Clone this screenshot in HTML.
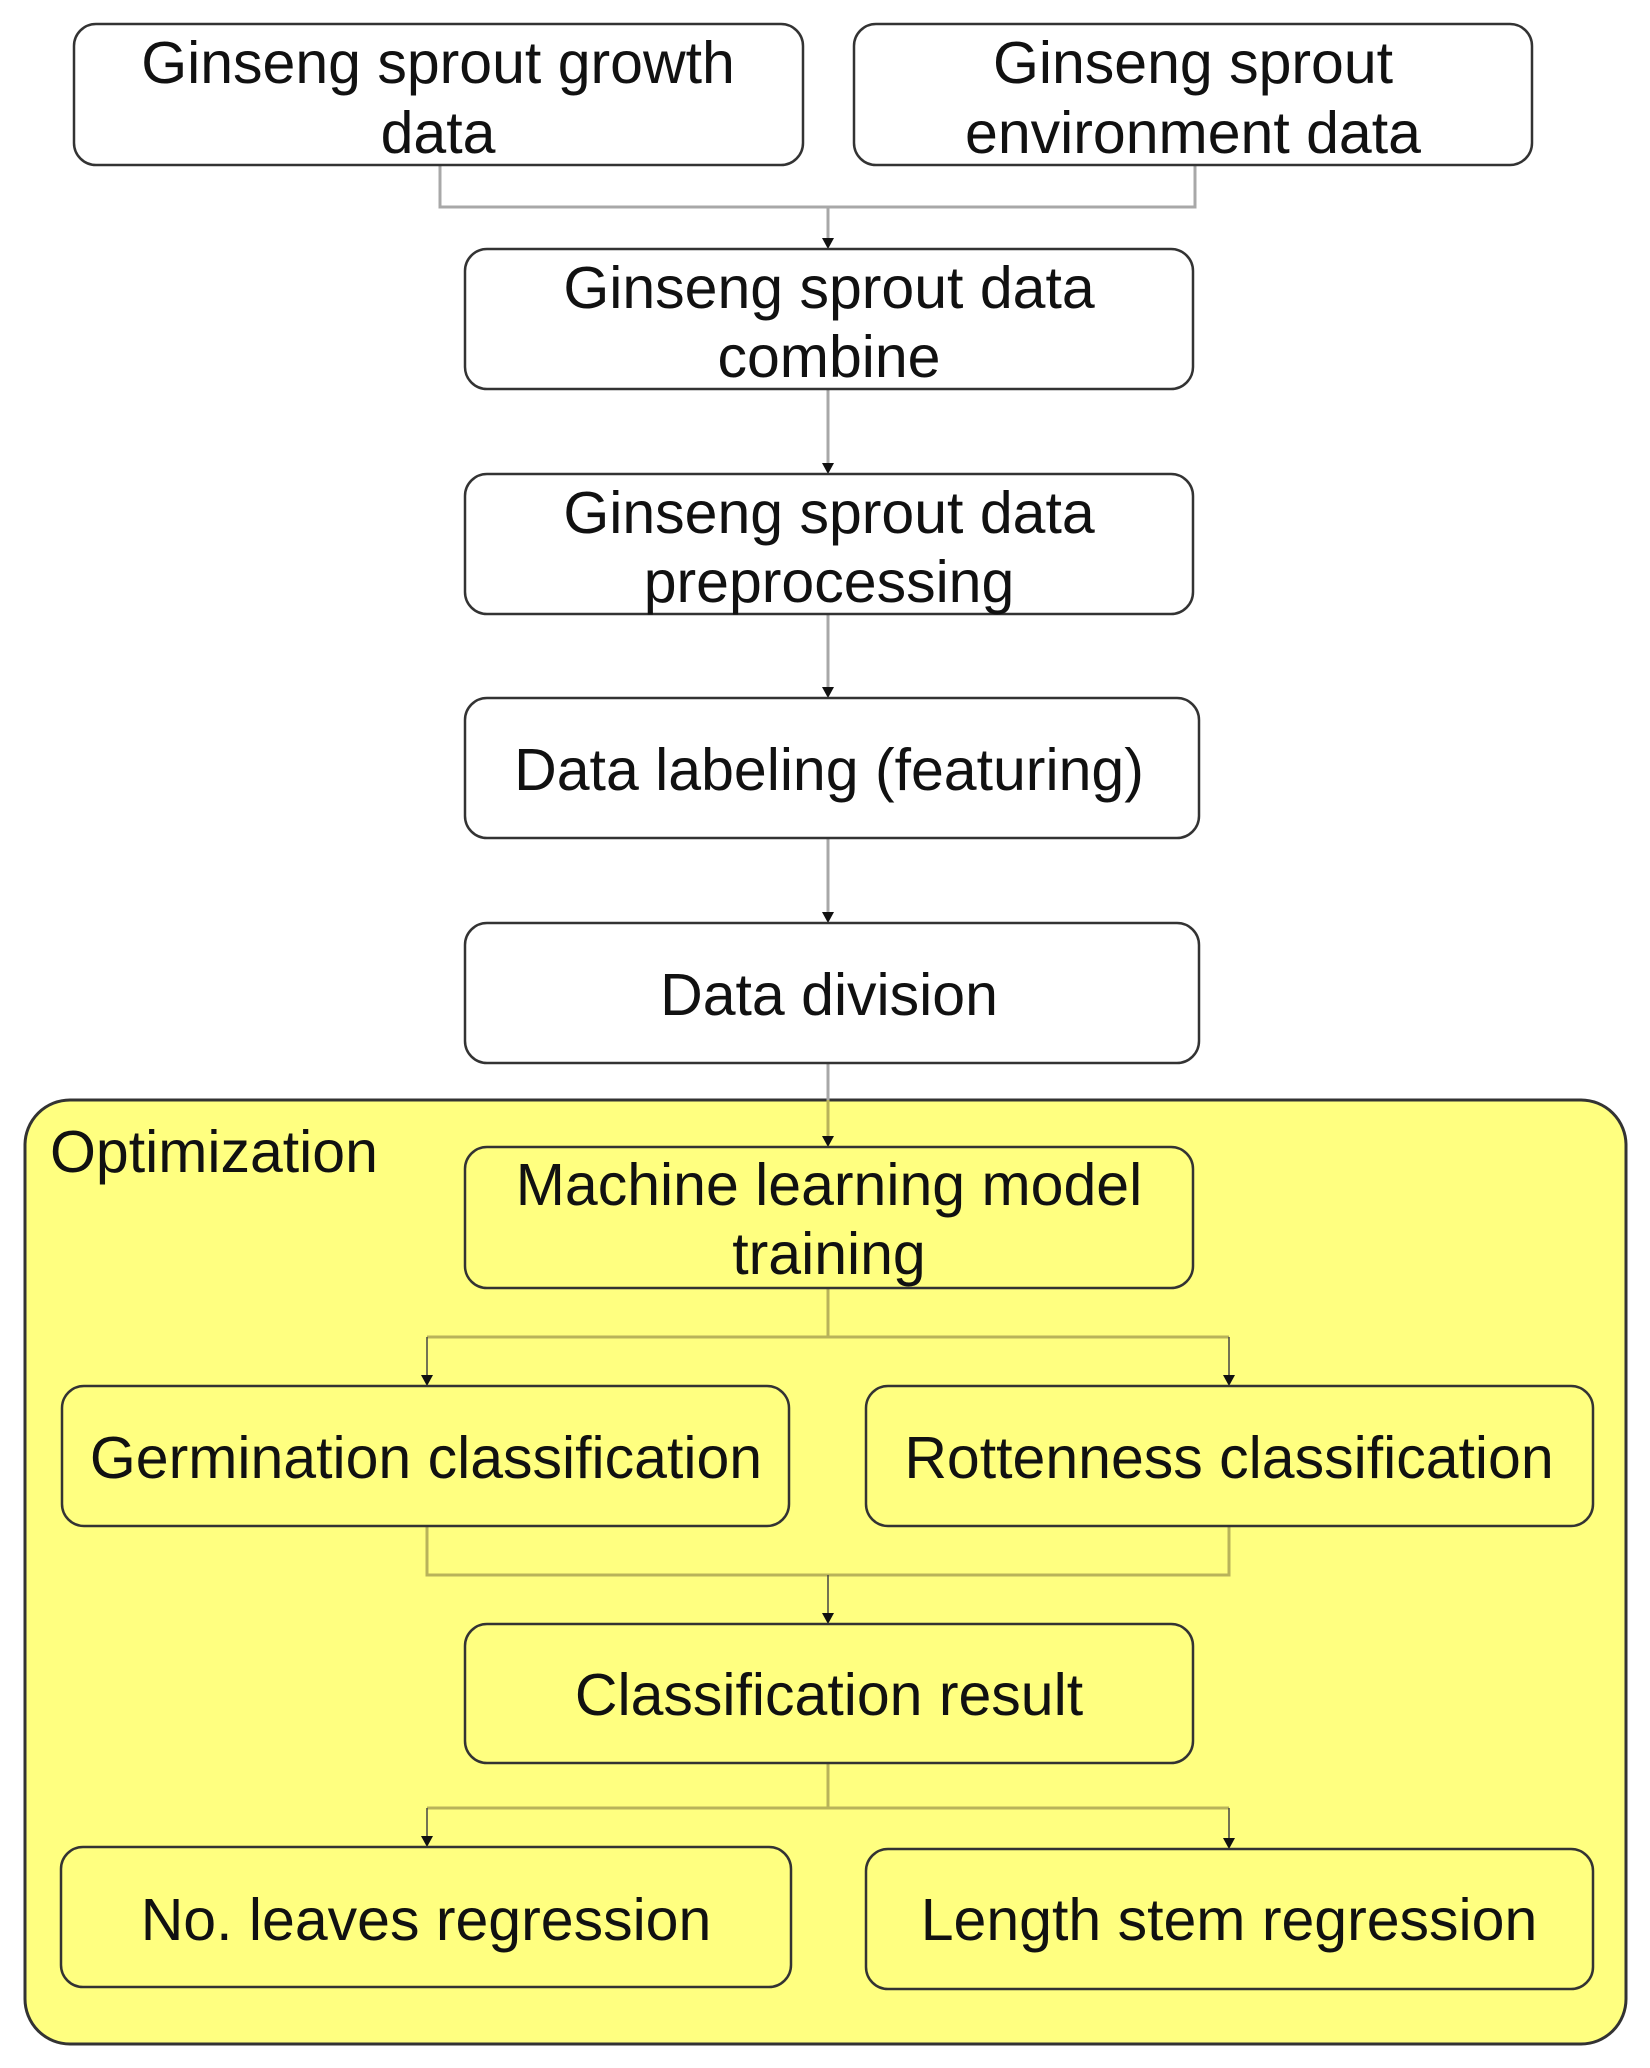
<!DOCTYPE html>
<html><head><meta charset="utf-8"><style>
html,body{margin:0;padding:0;background:#fff;}
svg{display:block;}
text{font-family:"Liberation Sans",Arial,sans-serif;font-size:59px;fill:#111;text-anchor:middle;}
.b{fill:#fff;stroke:#333;stroke-width:2.5;}
.y{fill:#ffff80;stroke:#333;stroke-width:2.5;}
.c{stroke:#a8a8a8;stroke-width:3;fill:none;}
.cy{stroke:#b8b35a;stroke-width:3;fill:none;}
.t{stroke:#444;stroke-width:1.5;fill:none;}
.h{fill:#111;}
</style></head><body>
<svg width="1650" height="2068" viewBox="0 0 1650 2068" xmlns="http://www.w3.org/2000/svg">
<!-- container -->
<rect x="25" y="1100" width="1601" height="944" rx="45" ry="45" fill="#ffff80" stroke="#333" stroke-width="3"/>
<text x="50" y="1172" style="text-anchor:start">Optimization</text>

<!-- connectors -->
<path class="c" d="M440 165 V207 H1195 V165"/>
<path class="c" d="M828 207 V240"/>
<path class="c" d="M828 389 V465"/>
<path class="c" d="M828 614 V689"/>
<path class="c" d="M828 838 V914"/>
<path class="c" d="M828 1063 V1100"/>
<path class="cy" d="M828 1100 V1138"/>
<path class="cy" d="M828 1288 V1337 M427 1337 H1229"/>
<path class="t" d="M427 1337 V1377"/>
<path class="t" d="M1229 1337 V1377"/>
<path class="cy" d="M427 1526 V1575 H1229 V1526"/>
<path class="t" d="M828 1575 V1615"/>
<path class="cy" d="M828 1763 V1808 M427 1808 H1229"/>
<path class="t" d="M427 1808 V1838"/>
<path class="t" d="M1229 1808 V1838"/>

<!-- arrowheads -->
<polygon class="h" points="822,238 834,238 828,249"/>
<polygon class="h" points="822,463 834,463 828,474"/>
<polygon class="h" points="822,687 834,687 828,698"/>
<polygon class="h" points="822,912 834,912 828,923"/>
<polygon class="h" points="822,1136 834,1136 828,1147"/>
<polygon class="h" points="421,1375 433,1375 427,1386"/>
<polygon class="h" points="1223,1375 1235,1375 1229,1386"/>
<polygon class="h" points="822,1613 834,1613 828,1624"/>
<polygon class="h" points="421,1836 433,1836 427,1847"/>
<polygon class="h" points="1223,1838 1235,1838 1229,1849"/>

<!-- boxes -->
<rect class="b" x="74" y="24" width="729" height="141" rx="22"/>
<text x="438" y="83">Ginseng sprout growth</text><text x="438" y="153">data</text>
<rect class="b" x="854" y="24" width="678" height="141" rx="22"/>
<text x="1193" y="83">Ginseng sprout</text><text x="1193" y="153">environment data</text>

<rect class="b" x="465" y="249" width="728" height="140" rx="22"/>
<text x="829" y="308">Ginseng sprout data</text><text x="829" y="377">combine</text>

<rect class="b" x="465" y="474" width="728" height="140" rx="22"/>
<text x="829" y="533">Ginseng sprout data</text><text x="829" y="602">preprocessing</text>

<rect class="b" x="465" y="698" width="734" height="140" rx="22"/>
<text x="829" y="790">Data labeling (featuring)</text>

<rect class="b" x="465" y="923" width="734" height="140" rx="22"/>
<text x="829" y="1015">Data division</text>

<rect class="y" x="465" y="1147" width="728" height="141" rx="22"/>
<text x="829" y="1205">Machine learning model</text><text x="829" y="1274">training</text>

<rect class="y" x="62" y="1386" width="727" height="140" rx="22"/>
<text x="426" y="1478">Germination classification</text>
<rect class="y" x="866" y="1386" width="727" height="140" rx="22"/>
<text x="1229" y="1478">Rottenness classification</text>

<rect class="y" x="465" y="1624" width="728" height="139" rx="22"/>
<text x="829" y="1715">Classification result</text>

<rect class="y" x="61" y="1847" width="730" height="140" rx="22"/>
<text x="426" y="1940">No. leaves regression</text>
<rect class="y" x="866" y="1849" width="727" height="140" rx="22"/>
<text x="1229" y="1940">Length stem regression</text>
</svg>
</body></html>
